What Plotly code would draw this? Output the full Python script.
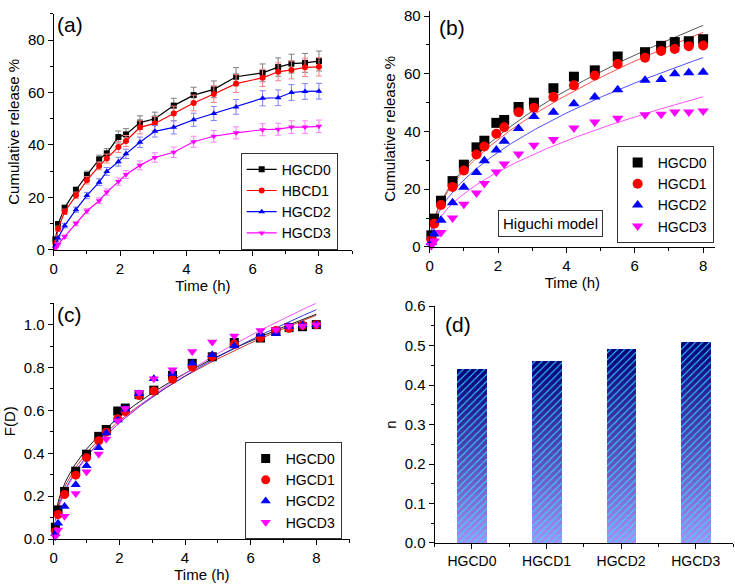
import plotly.graph_objects as go

# ---------------- data ----------------
time_h = [0.05, 0.13, 0.33, 0.67, 1.0, 1.37, 1.6, 1.95, 2.18, 2.6, 3.05, 3.62,
          4.22, 4.83, 5.5, 6.3, 6.77, 7.17, 7.58, 8.0]

names_a = ["HGCD0", "HBCD1", "HGCD2", "HGCD3"]
names = ["HGCD0", "HGCD1", "HGCD2", "HGCD3"]

rel_hgcd0 = [4.0, 9.8, 16.0, 22.8, 28.5, 34.5, 36.8, 43.0, 44.0, 48.5, 50.0, 55.0,
             59.0, 61.2, 66.0, 67.5, 69.7, 71.0, 71.3, 72.0]
rel_hgcd1 = [2.5, 8.0, 14.5, 20.8, 26.5, 32.0, 34.8, 39.2, 41.5, 46.7, 48.2, 52.0,
             56.0, 59.4, 63.4, 65.6, 67.9, 68.6, 69.6, 69.8]
rel_hgcd2 = [1.5, 4.5, 9.2, 15.3, 20.7, 25.8, 29.9, 33.6, 36.6, 41.0, 45.2, 46.7,
             49.6, 52.0, 54.5, 57.8, 58.0, 60.0, 60.4, 60.5]
rel_hgcd3 = [0.5, 2.0, 5.0, 10.0, 14.8, 18.7, 22.0, 26.0, 28.7, 32.2, 35.2, 37.2,
             41.2, 43.3, 44.6, 45.8, 46.0, 46.8, 46.8, 47.1]

err_hgcd0 = [0.8, 1.0, 1.0, 1.2, 1.5, 1.6, 1.8, 2.3, 2.2, 2.6, 2.5, 2.8,
             3.0, 3.2, 3.5, 3.4, 3.5, 3.6, 3.6, 3.8]
err_hgcd1 = [0.8, 1.0, 1.0, 1.2, 1.4, 1.5, 1.7, 2.1, 2.1, 2.5, 2.6, 2.8,
             3.0, 3.2, 3.4, 3.3, 3.4, 3.4, 3.5, 3.5]
err_hgcd2 = [0.6, 0.8, 0.9, 1.0, 1.2, 1.3, 1.5, 1.7, 1.8, 2.0, 2.2, 2.5,
             2.5, 2.7, 2.8, 2.9, 3.0, 3.0, 3.0, 3.0]
err_hgcd3 = [0.4, 0.6, 0.7, 0.8, 1.0, 1.1, 1.2, 1.4, 1.5, 1.7, 1.8, 2.0,
             2.1, 2.2, 2.3, 2.3, 2.3, 2.4, 2.4, 2.4]

# Higuchi model constants (Q = kH * sqrt(t))
higuchi_k = [27.15, 26.3, 23.2, 18.4]
# Korsmeyer-Peppas constants (F = kKP * t^n)
kp_k = [0.42, 0.401, 0.386, 0.381]
n_values = [0.44, 0.46, 0.49, 0.51]

release = [rel_hgcd0, rel_hgcd1, rel_hgcd2, rel_hgcd3]
errors = [err_hgcd0, err_hgcd1, err_hgcd2, err_hgcd3]

colors = ["#000000", "#ff0000", "#0000ff", "#ff00ff"]
err_colors = ["#7f7f7f", "#ff8080", "#8080ff", "#ff80ff"]
fit_colors = ["#555555", "#ff5050", "#5050ff", "#ff50ff"]
kp_colors = ["#000000", "#c02020", "#2020e0", "#ff40ff"]
symbols = ["square", "circle", "triangle-up", "triangle-down"]

FONT = "Liberation Sans, Arial, sans-serif"
W, H = 735, 584

fig = go.Figure()

# ---------------- panel (a) ----------------
for i in range(4):
    fig.add_trace(go.Scatter(
        x=time_h, y=release[i], mode="lines+markers", name=names_a[i],
        line=dict(color=colors[i], width=1.2),
        marker=dict(symbol=symbols[i], size=6, color=colors[i]),
        error_y=dict(type="data", array=errors[i], color=err_colors[i],
                     thickness=1, width=3),
        xaxis="x", yaxis="y", legend="legend", cliponaxis=False))

# ---------------- panel (b) ----------------
n_curve = 161
t_curve = [8.0 * j / (n_curve - 1) for j in range(n_curve)]
for i in range(4):
    fig.add_trace(go.Scatter(
        x=t_curve, y=[higuchi_k[i] * t ** 0.5 for t in t_curve], mode="lines",
        line=dict(color=fit_colors[i], width=1), showlegend=False,
        xaxis="x2", yaxis="y2", hoverinfo="skip"))
for i in range(4):
    fig.add_trace(go.Scatter(
        x=time_h, y=release[i], mode="markers", name=names[i],
        marker=dict(symbol=symbols[i], size=10, color=colors[i]),
        xaxis="x2", yaxis="y2", legend="legend2", cliponaxis=False))

# ---------------- panel (c) ----------------
t_curve_c = [time_h[0] + (8.0 - time_h[0]) * j / (n_curve - 1) for j in range(n_curve)]
for i in range(4):
    fig.add_trace(go.Scatter(
        x=t_curve_c, y=[kp_k[i] * t ** n_values[i] for t in t_curve_c], mode="lines",
        line=dict(color=kp_colors[i], width=0.9), showlegend=False,
        xaxis="x3", yaxis="y3", hoverinfo="skip"))
for i in range(4):
    final = release[i][-1]
    fig.add_trace(go.Scatter(
        x=time_h, y=[v / final for v in release[i]], mode="markers", name=names[i],
        marker=dict(symbol=symbols[i], size=9, color=colors[i]),
        xaxis="x3", yaxis="y3", legend="legend3", cliponaxis=False))

# ---------------- panel (d) ----------------
bar_x = list(range(len(names)))
n_seg = 40
top_rgb = (0, 0, 125)
bot_rgb = (165, 145, 245)
for k in range(n_seg):
    f = (k + 0.5) / n_seg
    c = tuple(int(round(bot_rgb[j] + (top_rgb[j] - bot_rgb[j]) * f)) for j in range(3))
    col = "rgb(%d,%d,%d)" % c
    fig.add_trace(go.Bar(
        x=bar_x, y=[v / n_seg for v in n_values], base=[v * k / n_seg for v in n_values],
        width=0.4, showlegend=False, xaxis="x4", yaxis="y4",
        marker=dict(color=col, line=dict(width=0),
                    pattern=dict(shape="/", fgcolor="#30e0ff", bgcolor=col,
                                 size=5, solidity=0.2, fillmode="replace"))))


def px_dom_x(a, b):
    return [a / W, b / W]


def px_dom_y(top, bottom):
    return [1 - bottom / H, 1 - top / H]


TICK = 15
axis_common = dict(showline=True, linecolor="#000000", linewidth=1, ticks="outside",
                   ticklen=5, tickwidth=1, tickcolor="#000000", showgrid=False,
                   zeroline=False, mirror=False)
tickfont = dict(family=FONT, size=TICK, color="#000000")
minor_common = dict(ticks="outside", ticklen=3, tickwidth=1, tickcolor="#000000",
                    showgrid=False)
title_font = dict(family=FONT, size=15, color="#000000")

LEG = dict(bordercolor="#333333", borderwidth=1, bgcolor="white",
           font=dict(family=FONT, size=14), itemwidth=30, xanchor="left", yanchor="top")

fig.update_layout(
    width=W, height=H, margin=dict(l=0, r=0, t=0, b=0),
    paper_bgcolor="white", plot_bgcolor="white",
    font=dict(family=FONT, size=14, color="#000000"),
    barmode="overlay", bargap=0,
    xaxis=dict(domain=px_dom_x(50, 350), range=[0, 9], dtick=2, tick0=0,
               minor=dict(dtick=1, **minor_common), anchor="y", tickfont=tickfont,
               title=dict(text="Time (h)", font=title_font, standoff=0), **axis_common),
    yaxis=dict(domain=px_dom_y(5, 248), range=[0, 90], tickvals=[0, 20, 40, 60, 80],
               minor=dict(dtick=10, tick0=0, **minor_common), anchor="x", tickfont=tickfont,
               title=dict(text="Cumulative release %", font=title_font, standoff=4),
               **axis_common),
    xaxis2=dict(domain=px_dom_x(428, 715), range=[0, 8.35], dtick=2, tick0=0,
                minor=dict(dtick=1, **minor_common), anchor="y2", tickfont=tickfont,
                title=dict(text="Time (h)", font=title_font, standoff=0), **axis_common),
    yaxis2=dict(domain=px_dom_y(2, 245), range=[0, 81.8], tickvals=[0, 20, 40, 60, 80],
                minor=dict(dtick=10, tick0=0, **minor_common), anchor="x2", tickfont=tickfont,
                title=dict(text="Cumulative release %", font=title_font, standoff=4),
                **axis_common),
    xaxis3=dict(domain=px_dom_x(50, 348), range=[0, 9.03], dtick=2, tick0=0,
                minor=dict(dtick=1, **minor_common), anchor="y3", tickfont=tickfont,
                title=dict(text="Time (h)", font=title_font, standoff=0), **axis_common),
    yaxis3=dict(domain=px_dom_y(303, 546), range=[0, 1.1], dtick=0.2, tick0=0,
                tickformat=".1f", minor=dict(dtick=0.1, tick0=0, **minor_common),
                anchor="x3", tickfont=tickfont,
                title=dict(text="F(D)", font=title_font, standoff=4), **axis_common),
    xaxis4=dict(domain=px_dom_x(433, 733), range=[-0.5, 3.5], tickvals=bar_x,
                ticktext=names, minor=dict(dtick=1, tick0=0.5, **minor_common),
                anchor="y4", tickfont=dict(family=FONT, size=14, color="#000000"),
                **axis_common),
    yaxis4=dict(domain=px_dom_y(306, 550), range=[0, 0.6], dtick=0.1, tick0=0,
                tickformat=".1f", minor=dict(dtick=0.05, tick0=0, **minor_common),
                anchor="x4", tickfont=tickfont,
                title=dict(text="n", font=title_font, standoff=4), **axis_common),
    legend=dict(x=238 / W, y=1 - 148 / H, **LEG),
    legend2=dict(x=616 / W, y=1 - 141 / H, **LEG),
    legend3=dict(x=242 / W, y=1 - 446 / H, **LEG),
)

labels = [("(a)", 51, 2), ("(b)", 435, 5), ("(c)", 51, 301), ("(d)", 441, 311)]
for txt, x, y in labels:
    fig.add_annotation(text=txt, x=x / W, y=1 - y / H, xref="paper", yref="paper",
                       xanchor="left", yanchor="top", showarrow=False,
                       font=dict(family=FONT, size=21, color="#000000"))

fig.add_annotation(text="Higuchi model", x=549.5 / W, y=1 - 221 / H, xref="paper",
                   yref="paper", xanchor="center", yanchor="middle", showarrow=False,
                   bordercolor="#333333", borderwidth=1, borderpad=4, bgcolor="white",
                   font=dict(family=FONT, size=15, color="#000000"))

fig.write_html("out.html")
